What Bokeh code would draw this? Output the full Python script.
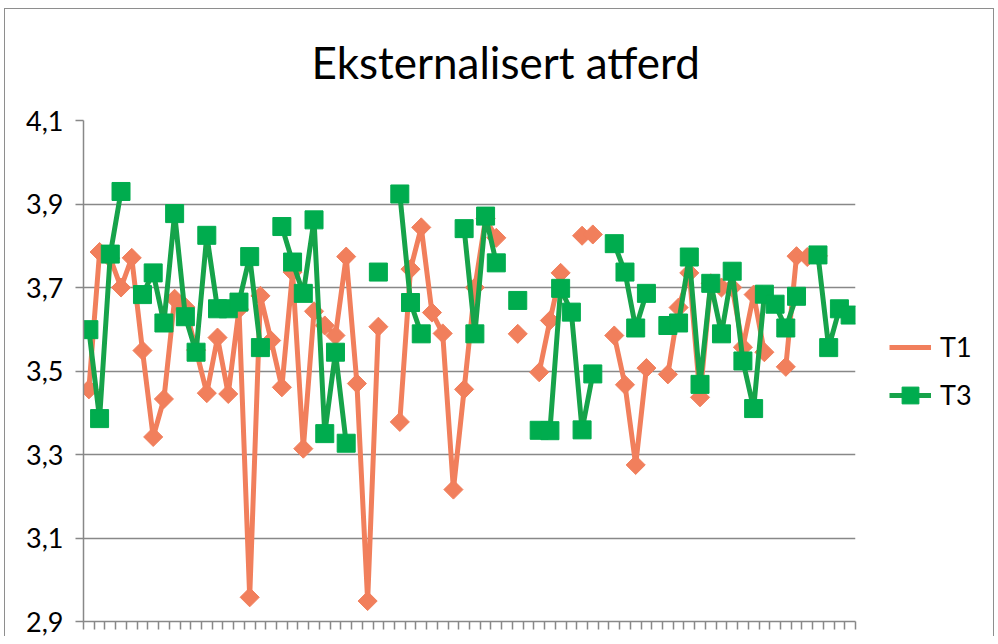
import numpy as np
from bokeh.plotting import figure
from bokeh.models import (Range1d, FixedTicker, Title, Legend, LegendItem, ColumnDataSource)
from bokeh.embed import file_html
from bokeh.resources import INLINE

title_text = "Eksternalisert atferd"
series_names = ["T1", "T3"]

# values per respondent (None = missing)
t1 = [3.456, 3.785, 3.77, 3.70, 3.771, 3.549, 3.342, 3.433, 3.673, 3.653,
      3.55, 3.447, 3.58, 3.445, 3.648, 2.958, 3.68, 3.573, 3.461, 3.737,
      3.314, 3.643, 3.609, 3.585, 3.774, 3.470, 2.949, 3.606, None, 3.378,
      3.744, 3.844, 3.640, 3.590, 3.216, 3.456, 3.700, 3.865, 3.819, None,
      3.589, None, 3.497, 3.621, 3.735, None, 3.824, 3.827, None, 3.585,
      3.467, 3.275, 3.507, None, 3.492, 3.652, 3.735, 3.437, 3.71, 3.70,
      3.70, 3.557, 3.683, 3.545, None, 3.510, 3.775, 3.773, 3.776, None,
      None, None]
t3 = [3.599, 3.386, 3.780, 3.930, None, 3.683, 3.735, 3.615, 3.877, 3.630,
      3.545, 3.825, 3.649, 3.649, 3.665, 3.774, 3.556, None, 3.846, 3.761,
      3.686, 3.862, 3.350, 3.545, 3.327, None, None, 3.737, None, 3.924,
      3.664, 3.589, None, None, None, 3.841, 3.589, 3.871, 3.759, None,
      3.669, None, 3.358, 3.357, 3.698, 3.641, 3.359, 3.493, None, 3.805,
      3.737, 3.603, 3.686, None, 3.609, 3.615, 3.773, 3.468, 3.710, 3.589,
      3.739, 3.524, 3.410, 3.684, 3.660, 3.603, 3.679, None, 3.778, 3.556,
      3.649, 3.634]
y_ticks = [2.9, 3.1, 3.3, 3.5, 3.7, 3.9, 4.1]
y_tick_labels = ["2,9", "3,1", "3,3", "3,5", "3,7", "3,9", "4,1"]

n = len(t1)
xs = np.arange(n) + 0.5
y1 = np.array([np.nan if v is None else v for v in t1], dtype=float)
y3 = np.array([np.nan if v is None else v for v in t3], dtype=float)

ORANGE = "#F17F5C"
GREEN_LINE = "#16A34A"
GREEN = "#00AC4E"
GRID = "#888888"
EDGE = "#8E8E8E"
FONT = "Lato"

p = figure(frame_width=772, frame_height=501, output_backend="svg",
           toolbar_location=None,
           x_range=Range1d(0, n), y_range=Range1d(2.9, 4.1),
           min_border_left=83, min_border_right=139, min_border_top=120,
           min_border_bottom=15)
p.outline_line_color = None
p.background_fill_color = "white"
p.border_fill_alpha = 0
# thin chart-area edge (left, top, right) drawn behind the transparent border area
p.styles = {
    "background": (
        f"linear-gradient({EDGE},{EDGE}) 4px 8px / 1px 100% no-repeat, "
        f"linear-gradient({EDGE},{EDGE}) 4px 8px / 990px 1px no-repeat, "
        f"linear-gradient({EDGE},{EDGE}) 993px 8px / 1px 100% no-repeat, "
        "white"
    )
}

p.add_layout(Title(text=title_text, align="left", offset=228, standoff=66,
                   text_font=FONT, text_font_size="44px",
                   text_font_style="normal", text_color="#000000"), "above")

# y axis
ya = p.yaxis[0]
ya.ticker = FixedTicker(ticks=y_ticks)
ya.major_label_overrides = {t: l for t, l in zip(y_ticks, y_tick_labels)}
ya.major_label_text_font = FONT
ya.major_label_text_font_size = "27px"
ya.major_label_text_color = "#000000"
ya.major_label_standoff = 12
ya.axis_line_color = GRID
ya.axis_line_width = 1.5
ya.major_tick_line_color = GRID
ya.major_tick_line_width = 1.5
ya.major_tick_out = 8
ya.major_tick_in = 0
ya.minor_tick_line_color = None

# x axis: tick marks between categories (minor ticks), no labels
xa = p.xaxis[0]
xa.ticker = FixedTicker(ticks=[], minor_ticks=list(range(n + 1)))
xa.major_label_standoff = 0
xa.axis_line_color = GRID
xa.axis_line_width = 1.5
xa.major_tick_line_color = None
xa.minor_tick_line_color = GRID
xa.minor_tick_line_width = 1.5
xa.minor_tick_out = 8
xa.minor_tick_in = 0

p.xgrid.grid_line_color = None
p.ygrid.ticker = FixedTicker(ticks=y_ticks)
p.ygrid.grid_line_color = GRID
p.ygrid.grid_line_width = 1.5

src = ColumnDataSource(dict(x=xs, y1=y1, y3=y3))

l1 = p.line("x", "y1", source=src, line_color=ORANGE, line_width=5)
m1 = p.scatter("x", "y1", source=src, marker="square", angle=np.pi / 4,
               size=13.5, fill_color=ORANGE, line_color=ORANGE)
l3 = p.line("x", "y3", source=src, line_color=GREEN_LINE, line_width=5)
m3 = p.scatter("x", "y3", source=src, marker="square", size=18,
               fill_color=GREEN, line_color=GREEN)

# legend-only diamond glyph (legend markers are drawn without rotation)
key1 = p.scatter(x=[], y=[], marker="diamond", fill_color=ORANGE,
                 line_color=ORANGE, size=18)

legend = Legend(items=[LegendItem(label=series_names[0], renderers=[l1, key1]),
                       LegendItem(label=series_names[1], renderers=[l3, m3])],
                location="center_left", orientation="vertical",
                glyph_width=42, glyph_height=44, spacing=4,
                label_text_font=FONT, label_text_font_size="27px",
                label_text_color="#000000", label_standoff=9,
                border_line_color=None, background_fill_alpha=0,
                padding=4, margin=34)
p.add_layout(legend, "right")

open("out.html", "w").write(file_html(p, INLINE))
